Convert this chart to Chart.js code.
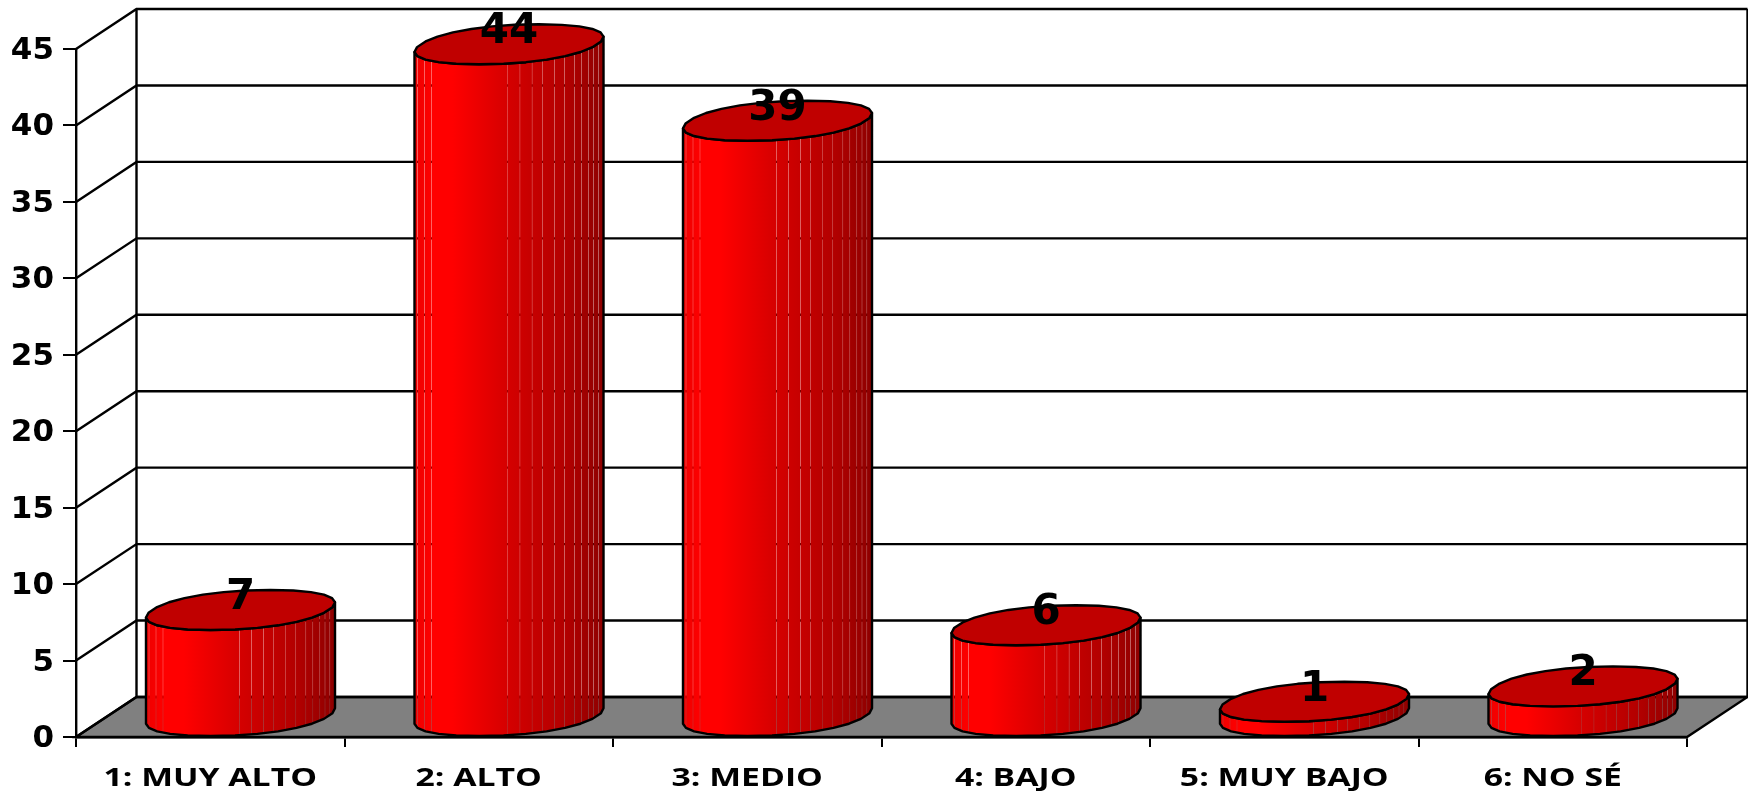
<!DOCTYPE html>
<html>
<head>
<meta charset="utf-8">
<title>Chart</title>
<script src="https://cdn.jsdelivr.net/npm/chart.js@4/dist/chart.umd.js"></script>
<style>
  html, body { margin: 0; padding: 0; background: #fff; }
  #wrap { width: 1748px; height: 791px; }
</style>
</head>
<body>
<div id="wrap"><canvas id="cylChart" width="1748" height="791"></canvas></div>
<script>
const categories = ['1: MUY ALTO', '2: ALTO', '3: MEDIO', '4: BAJO', '5: MUY BAJO', '6: NO SÉ'];
const values = [7, 44, 39, 6, 1, 2];
const yTicks = [0, 5, 10, 15, 20, 25, 30, 35, 40, 45];

// 3d look: how far the back wall sits from the front axis
const depthX = 60.5;
const depthY = -40;
const facets = 26;
// where the thin seams fall across a cylinder, left to right
const seams = [0.016, 0.053, 0.09, 0.494, 0.558, 0.622, 0.676, 0.74, 0.793, 0.846, 0.883, 0.92, 0.947, 0.973];

// a slightly boxy ellipse on the floor plane, like the coarse one in the original
function lidOutline(cx, cy, a) {
    const power = 0.92;
    const raw = [];
    for (let i = 0; i < facets; i++) {
        const t = i / facets * Math.PI * 2 + 0.12;
        const c = Math.sign(Math.cos(t)) * Math.pow(Math.abs(Math.cos(t)), power);
        const s = Math.sign(Math.sin(t)) * Math.pow(Math.abs(Math.sin(t)), power);
        raw.push({ x: c * a + s * depthX / 2, y: s * depthY / 2 });
    }
    const widest = Math.max(...raw.map(p => Math.abs(p.x)));
    const k = Math.hypot(a, depthX / 2) / widest;
    return raw.map(p => ({ x: cx + p.x * k, y: cy + p.y }));
}

// the lower half of the outline, from the leftmost point to the rightmost
function frontHalf(pts) {
    let from = 0, to = 0;
    pts.forEach((p, i) => {
        if (p.x < pts[from].x) from = i;
        if (p.x > pts[to].x) to = i;
    });
    const half = [];
    const next = pts[(from + 1) % pts.length];
    const prev = pts[(from - 1 + pts.length) % pts.length];
    const step = next.y > prev.y ? 1 : -1;
    for (let i = from; ; i = (i + step + pts.length) % pts.length) {
        half.push(pts[i]);
        if (i === to) break;
    }
    return half;
}

function tracePoly(ctx, pts) {
    ctx.beginPath();
    pts.forEach((p, i) => i ? ctx.lineTo(p.x, p.y) : ctx.moveTo(p.x, p.y));
    ctx.closePath();
}

const wallsPlugin = {
    id: 'walls',
    beforeDatasetsDraw(chart) {
        const { ctx, scales: { x, y } } = chart;
        const y0 = y.getPixelForValue(0);
        const l = x.left, r = x.right;
        ctx.save();
        // floor
        ctx.beginPath();
        ctx.moveTo(l, y0);
        ctx.lineTo(l + depthX, y0 + depthY);
        ctx.lineTo(r + depthX, y0 + depthY);
        ctx.lineTo(r, y0);
        ctx.closePath();
        ctx.fillStyle = '#808080';
        ctx.fill();
        ctx.strokeStyle = '#000';
        ctx.lineWidth = 2.4;
        ctx.stroke();
        // grid on the side wall and back wall
        yTicks.forEach(v => {
            const py = y.getPixelForValue(v);
            ctx.beginPath();
            ctx.moveTo(l, py);
            ctx.lineTo(l + depthX, py + depthY);
            ctx.lineTo(r + depthX, py + depthY);
            ctx.stroke();
        });
        const top = y.getPixelForValue(45);
        ctx.beginPath();
        ctx.moveTo(l + depthX, y0 + depthY);
        ctx.lineTo(l + depthX, top + depthY);
        ctx.moveTo(r + depthX, y0 + depthY);
        ctx.lineTo(r + depthX, top + depthY);
        ctx.stroke();
        ctx.restore();
    },
    afterDatasetsDraw(chart) {
        const { ctx, scales: { x } } = chart;
        const bars = chart.getDatasetMeta(0).data;
        ctx.save();
        ctx.lineJoin = 'round';
        bars.forEach(bar => {
            const a = bar.width / 2;
            const cx = bar.x + depthX / 2;
            const topY = bar.y + depthY / 2;
            const baseY = bar.base + depthY / 2;
            const topPts = lidOutline(cx, topY, a);
            const basePts = lidOutline(cx, baseY, a);
            const rx = Math.hypot(a, depthX / 2);
            const left = cx - rx, right = cx + rx;

            const side = frontHalf(basePts).concat(frontHalf(topPts).reverse());

            // side of the cylinder: strips with hairline gaps that let the backdrop through
            const grad = ctx.createLinearGradient(left, 0, right, 0);
            grad.addColorStop(0, '#ee0000');
            grad.addColorStop(0.1, '#ff0000');
            grad.addColorStop(0.2, '#ff0000');
            grad.addColorStop(0.5, '#d40000');
            grad.addColorStop(0.8, '#b20000');
            grad.addColorStop(1, '#8e0000');
            ctx.save();
            tracePoly(ctx, side);
            ctx.clip();
            ctx.fillStyle = grad;
            const topEdge = Math.min(...side.map(p => p.y)) - 2;
            const height = Math.max(...side.map(p => p.y)) + 2 - topEdge;
            const edges = [0].concat(seams, [1]);
            for (let i = 0; i < edges.length - 1; i++) {
                const gapL = i === 0 ? 0 : 0.12;
                const gapR = i === edges.length - 2 ? 0 : 0.12;
                const x0 = left + edges[i] * (right - left) + gapL;
                const x1 = left + edges[i + 1] * (right - left) - gapR;
                ctx.fillRect(x0, topEdge, x1 - x0, height);
            }
            ctx.restore();

            tracePoly(ctx, side);
            ctx.strokeStyle = '#000';
            ctx.lineWidth = 2.4;
            ctx.stroke();

            // lid
            tracePoly(ctx, topPts);
            ctx.fillStyle = '#c00000';
            ctx.fill();
            ctx.stroke();
        });

        // value labels
        ctx.fillStyle = '#000';
        ctx.font = 'bold 42px "DejaVu Sans"';
        ctx.textAlign = 'center';
        ctx.textBaseline = 'middle';
        bars.forEach((bar, idx) => {
            ctx.fillText(values[idx], bar.x + depthX / 2, bar.y + depthY / 2 - 12);
        });

        // category labels, stretched sideways as in the original
        ctx.font = 'bold 25px "Open Sans"';
        categories.forEach((label, idx) => {
            ctx.save();
            ctx.translate(x.getPixelForValue(idx), 779);
            ctx.scale(1.35, 1);
            ctx.fillText(label, 0, 0);
            ctx.restore();
        });
        ctx.restore();
    }
};

new Chart(document.getElementById('cylChart').getContext('2d'), {
    type: 'bar',
    data: {
        labels: categories,
        datasets: [{
            data: values,
            backgroundColor: 'transparent',
            borderWidth: 0,
            barPercentage: 1,
            categoryPercentage: 0.667
        }]
    },
    options: {
        responsive: false,
        animation: false,
        devicePixelRatio: 1,
        layout: { padding: { top: 49, right: 61, left: 0, bottom: 0 } },
        plugins: {
            legend: { display: false },
            title: { display: false },
            tooltip: { enabled: false }
        },
        scales: {
            x: {
                afterFit(s) { s.height = 54; },
                border: { color: '#000', width: 2.4 },
                grid: { drawOnChartArea: false, color: '#000', lineWidth: 2, tickLength: 10 },
                ticks: { display: false }
            },
            y: {
                min: 0,
                max: 45,
                afterFit(s) { s.width = 76; },
                border: { color: '#000', width: 2.4 },
                grid: { drawOnChartArea: false, color: '#000', lineWidth: 2, tickLength: 13 },
                ticks: {
                    stepSize: 5,
                    color: '#000',
                    padding: 9,
                    labelOffset: 2,
                    font: { family: '"DejaVu Sans"', weight: 'bold', size: 31 }
                }
            }
        }
    },
    plugins: [wallsPlugin]
});
</script>
</body>
</html>
